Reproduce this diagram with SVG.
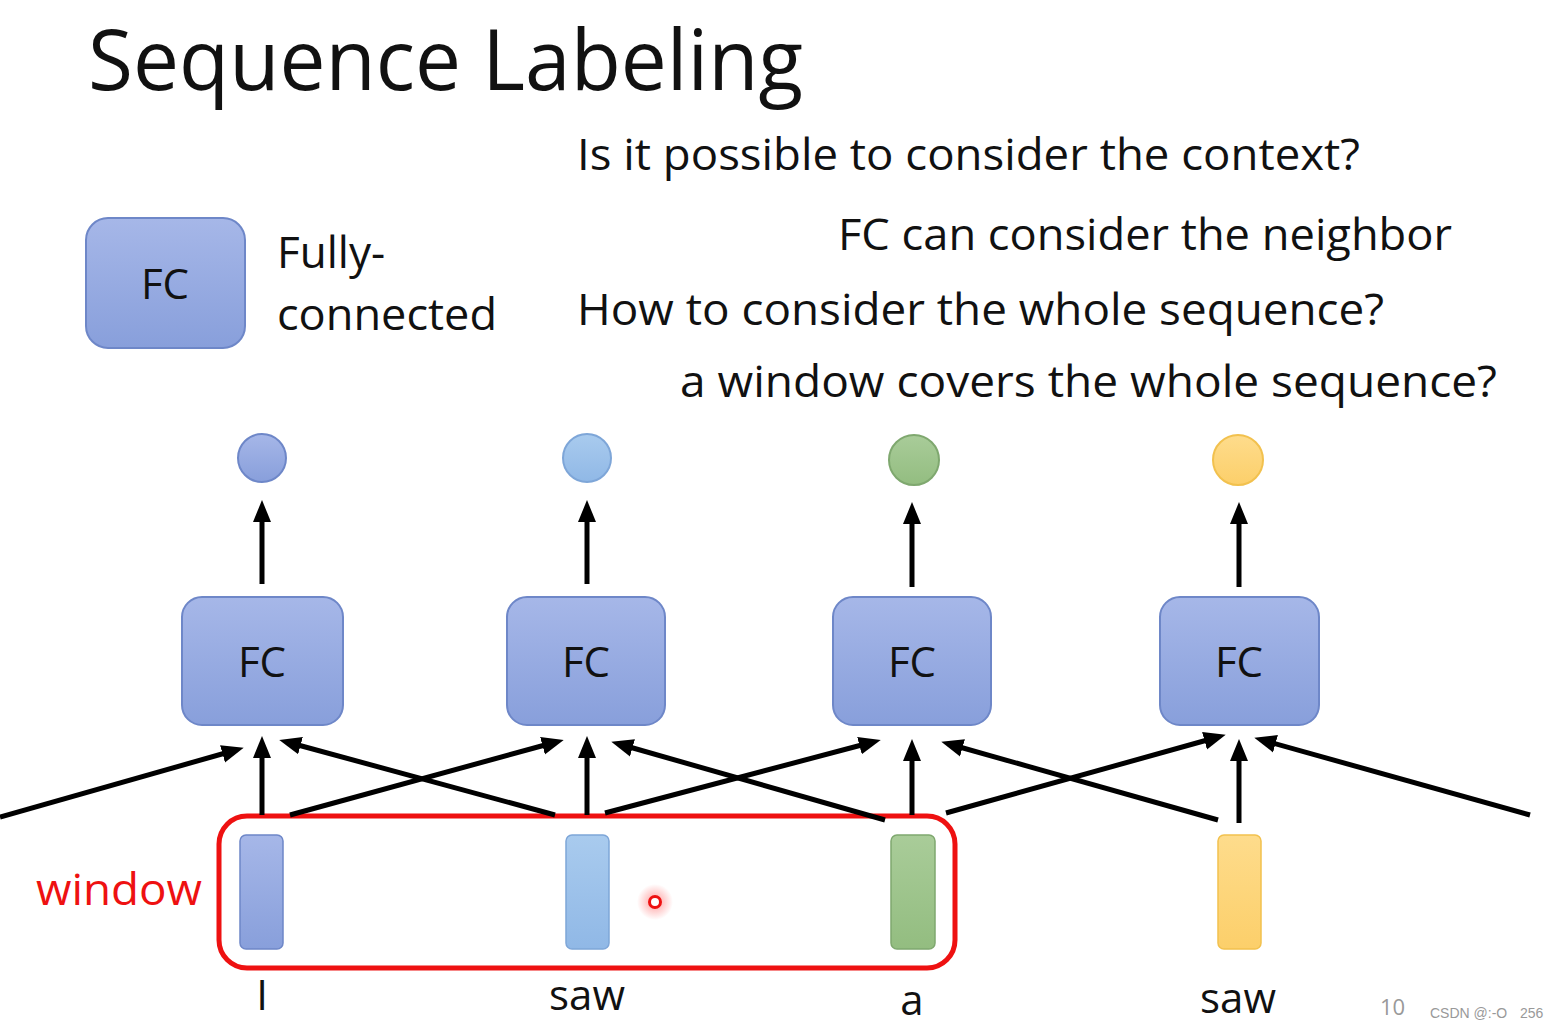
<svg xmlns="http://www.w3.org/2000/svg" width="1562" height="1028" viewBox="0 0 1562 1028">
<defs>
<linearGradient id="gBlue" x1="0" y1="0" x2="0" y2="1"><stop offset="0" stop-color="#a6b7e8"/><stop offset="1" stop-color="#889fdb"/></linearGradient>
<linearGradient id="gLight" x1="0" y1="0" x2="0" y2="1"><stop offset="0" stop-color="#a9cbee"/><stop offset="1" stop-color="#90b8e6"/></linearGradient>
<linearGradient id="gGreen" x1="0" y1="0" x2="0" y2="1"><stop offset="0" stop-color="#a9cc99"/><stop offset="1" stop-color="#93bd80"/></linearGradient>
<linearGradient id="gYellow" x1="0" y1="0" x2="0" y2="1"><stop offset="0" stop-color="#fedc8c"/><stop offset="1" stop-color="#fccf6a"/></linearGradient>
<radialGradient id="glow"><stop offset="0" stop-color="#ff3b3b" stop-opacity="0.5"/><stop offset="1" stop-color="#ff3b3b" stop-opacity="0"/></radialGradient>
<marker id="ah" viewBox="0 0 22 20" refX="14" refY="10" markerWidth="22" markerHeight="20" markerUnits="userSpaceOnUse" orient="auto">
<path d="M0,1 L22,10 L0,19 z" fill="#000"/>
</marker>
<style>
text{font-family:"Open Sans","Noto Sans","Liberation Sans",sans-serif;fill:#111}
.t{font-size:44px}
.fc{fill:url(#gBlue);stroke:#6e87c8;stroke-width:2}
.lbl{font-size:42px;text-anchor:middle}
.arr{stroke:#000;stroke-width:5;fill:none;marker-end:url(#ah)}
.wm{font-size:14px;fill:#999;font-family:"Liberation Sans",sans-serif}
</style>
</defs>
<rect width="1562" height="1028" fill="#fff"/>
<text x="88" y="90" font-size="84" textLength="715" lengthAdjust="spacingAndGlyphs">Sequence Labeling</text>

<g id="legend">
<rect class="fc" x="86" y="218" width="159" height="130" rx="22"/>
<text class="lbl" x="165" y="299">FC</text>
<text class="t" x="277" y="268">Fully-</text>
<text class="t" x="277" y="330" textLength="220" lengthAdjust="spacingAndGlyphs">connected</text>
</g>

<g id="questions">
<text class="t" x="577" y="170" textLength="783" lengthAdjust="spacingAndGlyphs">Is it possible to consider the context?</text>
<text class="t" x="838" y="250" textLength="614" lengthAdjust="spacingAndGlyphs">FC can consider the neighbor</text>
<text class="t" x="577" y="325" textLength="807" lengthAdjust="spacingAndGlyphs">How to consider the whole sequence?</text>
<text class="t" x="680" y="397" textLength="817" lengthAdjust="spacingAndGlyphs">a window covers the whole sequence?</text>
</g>

<g id="out1"><circle cx="262" cy="458" r="24" fill="url(#gBlue)" stroke="#6e87c8" stroke-width="2"/></g>
<g id="out2"><circle cx="587" cy="458" r="24" fill="url(#gLight)" stroke="#7ea6d8" stroke-width="2"/></g>
<g id="out3"><circle cx="914" cy="460" r="25" fill="url(#gGreen)" stroke="#7fa86f" stroke-width="2"/></g>
<g id="out4"><circle cx="1238" cy="460" r="25" fill="url(#gYellow)" stroke="#f2c14e" stroke-width="2"/></g>

<g id="fc1"><rect class="fc" x="182" y="597" width="161" height="128" rx="20"/><text class="lbl" x="262" y="677">FC</text></g>
<g id="fc2"><rect class="fc" x="507" y="597" width="158" height="128" rx="20"/><text class="lbl" x="586" y="677">FC</text></g>
<g id="fc3"><rect class="fc" x="833" y="597" width="158" height="128" rx="20"/><text class="lbl" x="912" y="677">FC</text></g>
<g id="fc4"><rect class="fc" x="1160" y="597" width="159" height="128" rx="20"/><text class="lbl" x="1239" y="677">FC</text></g>

<g id="window">
<rect x="219" y="816" width="736" height="152" rx="28" fill="none" stroke="#ee1111" stroke-width="5"/>
<text x="36" y="905" font-size="44" style="fill:#ee1111" textLength="166" lengthAdjust="spacingAndGlyphs">window</text>
</g>

<g id="in1"><rect x="240" y="835" width="43" height="114" rx="6" fill="url(#gBlue)" stroke="#6e87c8" stroke-width="1.5"/></g>
<g id="in2"><rect x="566" y="835" width="43" height="114" rx="6" fill="url(#gLight)" stroke="#7ea6d8" stroke-width="1.5"/></g>
<g id="in3"><rect x="891" y="835" width="44" height="114" rx="6" fill="url(#gGreen)" stroke="#7fa86f" stroke-width="1.5"/></g>
<g id="in4"><rect x="1218" y="835" width="43" height="114" rx="6" fill="url(#gYellow)" stroke="#f2c14e" stroke-width="1.5"/></g>

<g id="pointer">
<circle cx="655" cy="902" r="18" fill="url(#glow)"/>
<circle cx="655" cy="902" r="5.5" fill="#fff" stroke="#ee1111" stroke-width="3"/>
</g>

<g id="words">
<text class="lbl" x="262" y="1010">I</text>
<text class="lbl" x="587" y="1010">saw</text>
<text class="lbl" x="912" y="1015">a</text>
<text class="lbl" x="1238" y="1013">saw</text>
<text x="1380" y="1015" font-size="22" style="fill:#999">10</text>
<text class="wm" x="1430" y="1018">CSDN @:-O</text>
<text class="wm" x="1520" y="1018">256</text>
</g>

<g id="connectors">
<line class="arr" x1="262" y1="584" x2="262" y2="508"/>
<line class="arr" x1="587" y1="584" x2="587" y2="508"/>
<line class="arr" x1="912" y1="587" x2="912" y2="510"/>
<line class="arr" x1="1239" y1="587" x2="1239" y2="510"/>

<line class="arr" x1="0" y1="817" x2="236" y2="750"/>
<line class="arr" x1="262" y1="815" x2="262" y2="744"/>
<line class="arr" x1="555" y1="815" x2="287" y2="742"/>

<line class="arr" x1="290" y1="815" x2="556" y2="742"/>
<line class="arr" x1="587" y1="815" x2="587" y2="744"/>
<line class="arr" x1="885" y1="820" x2="619" y2="744"/>

<line class="arr" x1="605" y1="813" x2="873" y2="742"/>
<line class="arr" x1="912" y1="815" x2="912" y2="747"/>
<line class="arr" x1="1218" y1="820" x2="949" y2="744"/>

<line class="arr" x1="946" y1="813" x2="1218" y2="737"/>
<line class="arr" x1="1239" y1="823" x2="1239" y2="747"/>
<line class="arr" x1="1530" y1="815" x2="1262" y2="740"/>
</g>
</svg>
